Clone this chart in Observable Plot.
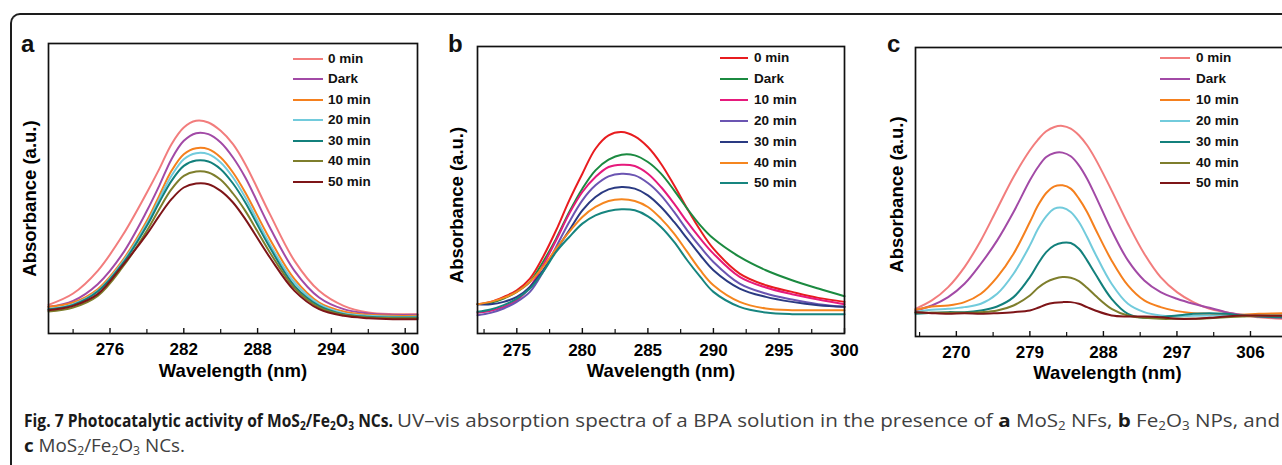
<!DOCTYPE html>
<html><head><meta charset="utf-8">
<script src="https://cdn.jsdelivr.net/npm/d3@7"></script>
<script src="https://cdn.jsdelivr.net/npm/@observablehq/plot@0.6"></script>
<style>
html,body{margin:0;padding:0;background:#fff;overflow:hidden;}
#root{position:relative;width:1282px;height:465px;overflow:hidden;font-family:"Liberation Sans",Arial,Helvetica,sans-serif;}
.box{position:absolute;left:10px;top:13px;width:1400px;height:600px;border-left:2px solid #1d1d1d;border-top:2px solid #1d1d1d;border-top-left-radius:10px;box-sizing:border-box;}
.panel{position:absolute;top:0;}
.panel svg{max-width:none !important;}
.letter{position:absolute;font-weight:bold;font-size:24px;line-height:24px;color:#111;}
.lg{position:absolute;font-weight:bold;font-size:13.5px;line-height:16px;color:#111;white-space:nowrap;}
.lgline{position:absolute;height:2px;}
.cap{position:absolute;font-family:"Open Sans","Noto Sans",sans-serif;font-size:18.5px;line-height:20px;color:#404040;white-space:nowrap;transform-origin:0 50%;font-weight:400;}
.cap b{color:#1a1a1a;font-weight:700;}
.cap sub{font-size:12px;vertical-align:-3px;line-height:0;}
</style></head>
<body><div id="root"><div class="box"></div></div>
<script>
const seriesNames = ["0 min","Dark","10 min","20 min","30 min","40 min","50 min"];

// Panel a: MoS2 NFs
const wlA = [271,273,275,277,279,280,281,282,283,284,285,286,287,289,291,293,295,297,299,301];
const a0    = [.086,.120,.188,.293,.423,.493,.568,.618,.638,.633,.608,.568,.508,.358,.218,.128,.083,.063,.058,.058];
const aDark = [.080,.098,.148,.238,.368,.443,.523,.578,.601,.598,.573,.528,.468,.318,.188,.108,.073,.060,.056,.056];
const a10   = [.080,.093,.133,.218,.338,.413,.488,.538,.556,.553,.528,.483,.423,.283,.163,.093,.066,.056,.053,.053];
const a20   = [.073,.088,.128,.213,.330,.403,.473,.523,.541,.538,.513,.468,.408,.268,.153,.088,.061,.053,.050,.050];
const a30   = [.073,.086,.126,.208,.323,.393,.458,.503,.519,.516,.493,.450,.393,.258,.143,.083,.058,.050,.048,.048];
const a40   = [.066,.078,.113,.198,.308,.373,.433,.473,.486,.483,.461,.420,.368,.243,.136,.078,.056,.048,.046,.046];
const a50   = [.070,.083,.118,.203,.298,.353,.403,.438,.450,.448,.428,.393,.343,.228,.128,.073,.053,.046,.043,.043];
const ticksA = [276,282,288,294,300];
const minorA = [273,279,285,291,297];

// Panel b: Fe2O3 NPs
const wlB = [272,273,274,275,276,277,278,279,280,281,282,283,284,285,286,287,288,289,290,292,294,296,298,300];
const b0    = [.088,.095,.110,.130,.165,.230,.310,.400,.480,.555,.595,.605,.592,.560,.510,.445,.375,.310,.255,.180,.145,.125,.107,.095];
const bDark = [.088,.092,.105,.125,.155,.215,.285,.365,.435,.490,.522,.537,.535,.515,.480,.430,.375,.325,.285,.230,.190,.160,.135,.112];
const b10   = [.062,.068,.080,.100,.140,.205,.280,.360,.425,.470,.500,.507,.503,.480,.440,.390,.335,.285,.240,.170,.138,.118,.102,.088];
const b20   = [.055,.062,.075,.095,.125,.185,.260,.335,.400,.445,.472,.480,.475,.452,.415,.365,.310,.260,.215,.150,.120,.102,.088,.080];
const b30   = [.088,.088,.095,.110,.140,.190,.250,.310,.370,.410,.433,.440,.435,.415,.380,.335,.285,.235,.190,.135,.110,.095,.085,.080];
const b40   = [.088,.095,.107,.125,.155,.200,.255,.305,.350,.380,.398,.403,.398,.380,.345,.300,.245,.190,.145,.095,.075,.070,.070,.070];
const b50   = [.065,.072,.085,.105,.135,.185,.245,.290,.330,.355,.368,.373,.370,.352,.320,.275,.220,.170,.125,.080,.063,.058,.058,.058];
const ticksB = [275,280,285,290,295,300];
const minorB = [272.5,277.5,282.5,287.5,292.5,297.5];

// Panel c: MoS2/Fe2O3 NCs
const wlC = [265,267,269,271,273,275,277,279,280,281,282,283,284,285,286,287,289,291,293,295,297,299,301,303,305,307,310,312];
const c0    = [.083,.108,.148,.208,.288,.383,.478,.558,.590,.615,.628,.631,.623,.603,.573,.533,.438,.338,.248,.178,.133,.103,.083,.073,.063,.058,.053,.051];
const cDark = [.078,.093,.118,.158,.218,.288,.373,.468,.508,.538,.550,.551,.540,.513,.473,.423,.318,.228,.168,.133,.113,.098,.086,.073,.065,.060,.056,.055];
const c10   = [.080,.090,.093,.103,.128,.178,.248,.343,.393,.430,.450,.453,.443,.413,.373,.323,.228,.153,.108,.088,.076,.070,.068,.065,.065,.068,.070,.072];
const c20   = [.073,.080,.083,.088,.098,.128,.188,.273,.323,.360,.383,.386,.373,.343,.298,.248,.158,.098,.073,.063,.060,.062,.063,.063,.063,.062,.062,.062];
const c30   = [.068,.071,.073,.073,.078,.090,.118,.178,.218,.253,.273,.281,.280,.263,.228,.188,.113,.068,.056,.058,.063,.068,.070,.068,.063,.060,.058,.058];
const c40   = [.073,.071,.071,.071,.073,.078,.093,.123,.146,.163,.173,.178,.176,.166,.146,.123,.083,.063,.056,.053,.053,.053,.055,.058,.060,.062,.063,.063];
const c50   = [.073,.070,.068,.070,.068,.070,.073,.078,.086,.096,.101,.103,.103,.098,.088,.078,.063,.060,.060,.058,.053,.053,.056,.060,.063,.063,.062,.062];
const ticksC = [270,279,288,297,306];
const minorC = [265.5,274.5,283.5,292.5,301.5,310.5];

const colorsAC = ["#f27d7d","#a24aa6","#f5801e","#72cbdc","#13807c","#7e7e2c","#7e1518"];
const colorsB  = ["#e81c1f","#1b8a40","#e61a7c","#6b55b2","#2a3a82","#f5861f","#17857f"];

function rows(wl, arrs){
  const out=[];
  arrs.forEach((arr,i)=>arr.forEach((v,j)=>out.push({w:wl[j], v, s:seriesNames[i]})));
  return out;
}

const FONT = "'Liberation Sans', Arial, Helvetica, sans-serif";

function makePanel(cfg){
  const H = cfg.height - cfg.mt - cfg.mb;
  return Plot.plot({
    width: cfg.width, height: cfg.height,
    marginLeft: cfg.ml, marginRight: cfg.mr, marginTop: cfg.mt, marginBottom: cfg.mb,
    style: {fontFamily: FONT, background: "transparent", overflow: "visible", maxWidth: "none"},
    x: {domain: cfg.xdomain},
    y: {domain: cfg.ydomain, axis: null},
    color: {domain: seriesNames, range: cfg.colors},
    marks: [
      Plot.line(rows(cfg.wl, cfg.series), {x:"w", y:"v", stroke:"s", z:"s", curve:"catmull-rom", strokeWidth:2}),
      Plot.frame({stroke:"#111", strokeWidth:1.7}),
      Plot.tickX(cfg.ticks, {x:d=>d, insetTop: H-5, stroke:"#111", strokeWidth:1.4}),
      Plot.tickX(cfg.minor, {x:d=>d, insetTop: H-4, stroke:"#111", strokeWidth:1.2}),
      Plot.axisX(cfg.ticks, {tickSize:0, tickPadding:cfg.tp, fontSize:17, fontWeight:"bold", fill:"#000", label:null}),
      Plot.text(["Wavelength (nm)"], {text:d=>d, frameAnchor:"bottom", dy:cfg.xl, fontSize:18.5, fontWeight:"bold", fill:"#000"}),
      Plot.text(["Absorbance (a.u.)"], {text:d=>d, frameAnchor:"left", textAnchor:"middle", lineAnchor:"middle", rotate:-90, dx:cfg.ylx, dy:cfg.yly, fontSize:18.5, fontWeight:"bold", fill:"#000"})
    ]
  });
}

const root = document.getElementById("root");
const panels = [
  {left:0, width:430, height:400, ml:48, mr:13, mt:43, mb:67, xdomain:[271,301], ydomain:[0,0.87], wl:wlA,
   series:[a0,aDark,a10,a20,a30,a40,a50], colors:colorsAC, ticks:ticksA, minor:minorA, tp:9, xl:43, ylx:-18, yly:10,
   letter:"a", lx:21, ly:32, lgLine:[293,323], lgText:328, lgY:58.5, lgStep:20.5},
  {left:430, width:430, height:400, ml:47, mr:16, mt:46, mb:67, xdomain:[272,300], ydomain:[0,0.862], wl:wlB,
   series:[b0,bDark,b10,b20,b30,b40,b50], colors:colorsB, ticks:ticksB, minor:minorB, tp:10, xl:43.4, ylx:-20, yly:15,
   letter:"b", lx:448, ly:32, lgLine:[720,748], lgText:754, lgY:58.3, lgStep:20.85},
  {left:860, width:460, height:400, ml:55, mr:21, mt:47, mb:64, xdomain:[265,312], ydomain:[0,0.866], wl:wlC,
   series:[c0,cDark,c10,c20,c30,c40,c50], colors:colorsAC, ticks:ticksC, minor:minorC, tp:9.5, xl:42.3, ylx:-18, yly:2.5,
   letter:"c", lx:887, ly:32, lgLine:[1160,1190], lgText:1196, lgY:58.3, lgStep:20.85}
];

panels.forEach(p=>{
  const wrap = document.createElement("div");
  wrap.className="panel"; wrap.style.left=p.left+"px"; wrap.style.width=p.width+"px"; wrap.style.height=p.height+"px";
  wrap.appendChild(makePanel(p));
  root.appendChild(wrap);
  const L = document.createElement("div");
  L.className="letter"; L.textContent=p.letter; L.style.left=p.lx+"px"; L.style.top=p.ly+"px";
  root.appendChild(L);
  seriesNames.forEach((n,i)=>{
    const y = p.lgY + i*p.lgStep;
    const ln = document.createElement("div");
    ln.className="lgline"; ln.style.left=p.lgLine[0]+"px"; ln.style.width=(p.lgLine[1]-p.lgLine[0])+"px";
    ln.style.top=(y-1)+"px"; ln.style.background=p.colors[i];
    root.appendChild(ln);
    const t = document.createElement("div");
    t.className="lg"; t.textContent=n; t.style.left=p.lgText+"px"; t.style.top=(y-8)+"px";
    root.appendChild(t);
  });
});

// Caption
function capSpan(html, left, top, targetWidth){
  const d = document.createElement("div");
  d.className="cap"; d.style.left=left+"px"; d.style.top=top+"px";
  d.innerHTML = html;
  root.appendChild(d);
  const w = d.getBoundingClientRect().width;
  d.style.transform = `scaleX(${targetWidth / w})`;
}
capSpan("<b>Fig. 7 Photocatalytic activity of MoS<sub>2</sub>/Fe<sub>2</sub>O<sub>3</sub> NCs.</b>", 24, 410, 369);
capSpan("UV–vis absorption spectra of a BPA solution in the presence of <b>a</b> MoS<sub>2</sub> NFs, <b>b</b> Fe<sub>2</sub>O<sub>3</sub> NPs, and", 397, 410, 883);
capSpan("<b>c</b> MoS<sub>2</sub>/Fe<sub>2</sub>O<sub>3</sub> NCs.", 24, 435, 161);
</script>
</body></html>
